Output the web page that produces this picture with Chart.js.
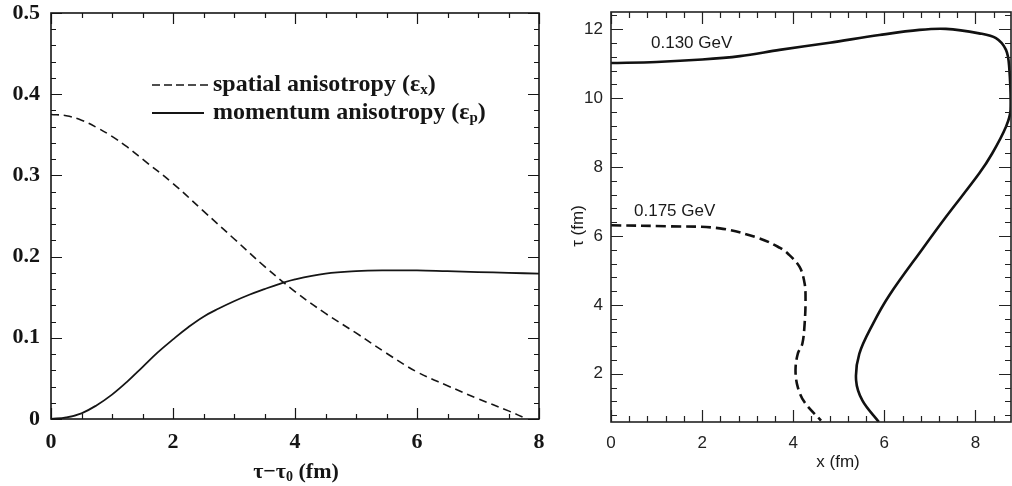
<!DOCTYPE html>
<html>
<head>
<meta charset="utf-8">
<script src="https://cdn.jsdelivr.net/npm/chart.js@4.4.0/dist/chart.umd.min.js"></script>
<style>
  html, body { margin: 0; padding: 0; background: #fff; }
  #wrap { position: relative; width: 1012px; height: 486px; overflow: hidden; }
  #left { position: absolute; left: 0; top: 0; }
  #right { position: absolute; left: 560px; top: 0; }
</style>
</head>
<body>
<div id="wrap">
  <canvas id="left" width="560" height="486"></canvas>
  <canvas id="right" width="452" height="486"></canvas>
</div>
<script>
// Left panel: anisotropies vs tau - tau0 (fm)
const spatialTau = [0, 0.25, 0.5, 0.75, 1, 1.25, 1.5, 2, 2.5, 3, 3.5, 4, 4.5, 5, 5.5, 6, 6.5, 7, 7.5, 7.8];
const spatialEcc = [0.375, 0.3735, 0.368, 0.359, 0.348, 0.335, 0.320, 0.290, 0.256, 0.222, 0.188, 0.157, 0.130, 0.106, 0.081, 0.058, 0.041, 0.025, 0.010, 0.0];
const momentumTau = [0, 0.25, 0.5, 0.75, 1, 1.25, 1.5, 1.75, 2, 2.25, 2.5, 2.75, 3, 3.25, 3.5, 3.75, 4, 4.5, 5, 5.5, 6, 6.5, 7, 7.5, 8];
const momentumEcc = [0, 0.002, 0.007, 0.017, 0.030, 0.046, 0.064, 0.082, 0.098, 0.113, 0.126, 0.136, 0.145, 0.153, 0.160, 0.1665, 0.172, 0.179, 0.182, 0.183, 0.183, 0.182, 0.181, 0.180, 0.179];
const leftXTicks = [0, 2, 4, 6, 8];
const leftYTicks = [0, 0.1, 0.2, 0.3, 0.4, 0.5];

// Right panel: freeze-out contours, x (fm) vs tau (fm)
const contour130X = [0, 1.0, 2.0, 2.83, 3.7, 4.8, 5.89, 6.77, 7.35, 8.08, 8.45, 8.67, 8.74, 8.77, 8.67, 8.37, 8.08, 7.35, 6.84, 6.11, 5.75, 5.45, 5.38, 5.52, 5.88];
const contour130Tau = [11.02, 11.05, 11.12, 11.22, 11.40, 11.61, 11.83, 11.98, 12.01, 11.88, 11.74, 11.40, 10.91, 9.65, 9.17, 8.40, 7.81, 6.55, 5.63, 4.28, 3.45, 2.58, 1.81, 1.22, 0.6];
const contour175X = [0, 1.29, 2.39, 3.26, 3.70, 3.88, 4.14, 4.25, 4.27, 4.25, 4.20, 4.10, 4.05, 4.10, 4.25, 4.61];
const contour175Tau = [6.31, 6.28, 6.22, 5.93, 5.66, 5.49, 5.10, 4.62, 4.13, 3.45, 2.87, 2.58, 2.10, 1.61, 1.17, 0.64];
const rightXTicks = [0, 2, 4, 6, 8];
const rightYTicks = [2, 4, 6, 8, 10, 12];

const toPoints = (xs, ys) => xs.map((x, i) => ({ x: x, y: ys[i] }));
const steps = (from, to, step) => {
    const out = [];
    for (let v = from; v <= to + 1e-9; v += step) out.push(+v.toFixed(4));
    return out;
};

// box around the plot with inward ticks on all four sides
const framePlugin = {
    id: 'frame',
    afterDatasetsDraw(chart, args, opts) {
        const { ctx, chartArea: a, scales: { x, y } } = chart;
        ctx.save();
        ctx.strokeStyle = opts.color;
        ctx.lineWidth = opts.lineWidth;
        ctx.beginPath();
        const xMarks = (vals, len) => vals.forEach(v => {
            const px = Math.round(x.getPixelForValue(v)) + 0.5;
            if (px < a.left - 1 || px > a.right + 1) return;
            ctx.moveTo(px, a.bottom); ctx.lineTo(px, a.bottom - len);
            ctx.moveTo(px, a.top); ctx.lineTo(px, a.top + len);
        });
        const yMarks = (vals, len) => vals.forEach(v => {
            const py = Math.round(y.getPixelForValue(v)) + 0.5;
            if (py < a.top - 1 || py > a.bottom + 1) return;
            ctx.moveTo(a.left, py); ctx.lineTo(a.left + len, py);
            ctx.moveTo(a.right, py); ctx.lineTo(a.right - len, py);
        });
        xMarks(opts.xMajor, opts.majorLen);
        xMarks(opts.xMinor, opts.minorLen);
        yMarks(opts.yMajor, opts.majorLen);
        yMarks(opts.yMinor, opts.minorLen);
        ctx.stroke();
        ctx.lineWidth = opts.boxWidth;
        ctx.strokeRect(a.left, a.top, a.right - a.left, a.bottom - a.top);
        ctx.restore();
    }
};

// free text (legend, titles, contour labels), with optional subscripts
function drawPieces(ctx, pieces, x, y, font, subFont, align) {
    ctx.textBaseline = 'middle';
    ctx.textAlign = 'left';
    let total = 0;
    pieces.forEach(p => { ctx.font = p.sub ? subFont : font; total += ctx.measureText(p.t).width; });
    let cx = align === 'center' ? x - total / 2 : x;
    pieces.forEach(p => {
        ctx.font = p.sub ? subFont : font;
        ctx.fillText(p.t, cx, p.sub ? y + 5 : y);
        cx += ctx.measureText(p.t).width;
    });
}

const notesPlugin = {
    id: 'notes',
    afterDraw(chart, args, opts) {
        const ctx = chart.ctx;
        ctx.save();
        ctx.fillStyle = opts.color;
        ctx.strokeStyle = opts.color;
        (opts.lines || []).forEach(l => {
            ctx.lineWidth = l.width;
            ctx.setLineDash(l.dash);
            ctx.beginPath();
            ctx.moveTo(l.x1, l.y); ctx.lineTo(l.x2, l.y);
            ctx.stroke();
        });
        ctx.setLineDash([]);
        (opts.texts || []).forEach(t => {
            if (t.rotate) {
                ctx.save();
                ctx.translate(t.x, t.y);
                ctx.rotate(-Math.PI / 2);
                drawPieces(ctx, t.pieces, 0, 0, t.font, t.subFont, 'center');
                ctx.restore();
            } else {
                drawPieces(ctx, t.pieces, t.x, t.y, t.font, t.subFont, t.align);
            }
        });
        ctx.restore();
    }
};

// keep tick labels from pushing the plot box inwards
function noEdgePadding(s) {
    s.paddingTop = 0; s.paddingBottom = 0;
    s.paddingLeft = 0; s.paddingRight = 0;
}

const serifBold = { family: 'Liberation Serif', weight: 'bold', size: 22 };
const sans = { family: 'Liberation Sans', size: 17 };

new Chart(document.getElementById('left'), {
    type: 'scatter',
    data: {
        datasets: [{
            label: 'spatial anisotropy',
            data: toPoints(spatialTau, spatialEcc),
            showLine: true,
            borderColor: '#151515',
            borderWidth: 1.6,
            borderDash: [8, 5],
            pointRadius: 0,
            tension: 0.4
        }, {
            label: 'momentum anisotropy',
            data: toPoints(momentumTau, momentumEcc),
            showLine: true,
            borderColor: '#151515',
            borderWidth: 1.8,
            pointRadius: 0,
            tension: 0.4
        }]
    },
    options: {
        responsive: false,
        animation: false,
        layout: { padding: { top: 13, right: 21, left: 0, bottom: 0 } },
        plugins: {
            legend: { display: false },
            tooltip: { enabled: false },
            frame: {
                color: '#151515', lineWidth: 1.2, boxWidth: 1.6, majorLen: 11, minorLen: 5,
                xMajor: leftXTicks, xMinor: steps(0, 8, 0.5),
                yMajor: leftYTicks, yMinor: steps(0, 0.5, 0.02)
            },
            notes: {
                color: '#151515',
                lines: [
                    { x1: 152, x2: 210, y: 85, width: 1.6, dash: [8, 4] },
                    { x1: 152, x2: 204, y: 113, width: 1.8, dash: [] }
                ],
                texts: [
                    { x: 213, y: 85, font: 'bold 24px "Liberation Serif"', subFont: 'bold 15px "Liberation Serif"',
                      pieces: [{ t: 'spatial anisotropy (\u03b5' }, { t: 'x', sub: true }, { t: ')' }] },
                    { x: 213, y: 113, font: 'bold 24px "Liberation Serif"', subFont: 'bold 15px "Liberation Serif"',
                      pieces: [{ t: 'momentum anisotropy (\u03b5' }, { t: 'p', sub: true }, { t: ')' }] },
                    { x: 296, y: 472, align: 'center', font: 'bold 22px "Liberation Serif"', subFont: 'bold 14px "Liberation Serif"',
                      pieces: [{ t: '\u03c4\u2212\u03c4' }, { t: '0', sub: true }, { t: ' (fm)' }] }
                ]
            }
        },
        scales: {
            x: {
                type: 'linear', min: 0, max: 8,
                grid: { display: false, drawTicks: false },
                border: { display: false },
                afterFit(s) { s.height = 67; noEdgePadding(s); },
                afterBuildTicks(s) { s.ticks = leftXTicks.map(v => ({ value: v })); },
                ticks: { font: serifBold, color: '#151515', padding: 10, maxRotation: 0 }
            },
            y: {
                type: 'linear', min: 0, max: 0.5,
                grid: { display: false, drawTicks: false },
                border: { display: false },
                afterFit(s) { s.width = 51; noEdgePadding(s); },
                afterBuildTicks(s) { s.ticks = leftYTicks.map(v => ({ value: v })); },
                ticks: {
                    font: serifBold, color: '#151515', padding: 11,
                    callback: v => v === 0 ? '0' : v.toFixed(1)
                }
            }
        }
    },
    plugins: [framePlugin, notesPlugin]
});

new Chart(document.getElementById('right'), {
    type: 'scatter',
    data: {
        datasets: [{
            label: '0.130 GeV',
            data: toPoints(contour130X, contour130Tau),
            showLine: true,
            borderColor: '#111',
            borderWidth: 2.6,
            pointRadius: 0,
            tension: 0.35
        }, {
            label: '0.175 GeV',
            data: toPoints(contour175X, contour175Tau),
            showLine: true,
            borderColor: '#111',
            borderWidth: 2.6,
            borderDash: [10, 5],
            pointRadius: 0,
            tension: 0.35
        }]
    },
    options: {
        responsive: false,
        animation: false,
        layout: { padding: { top: 12, right: 1, left: 0, bottom: 0 } },
        plugins: {
            legend: { display: false },
            tooltip: { enabled: false },
            frame: {
                color: '#222', lineWidth: 1.2, boxWidth: 1.6, majorLen: 12, minorLen: 6,
                xMajor: rightXTicks, xMinor: steps(0, 8.8, 0.4),
                yMajor: rightYTicks, yMinor: steps(0.4, 12.4, 0.4)
            },
            notes: {
                color: '#1a1a1a',
                texts: [
                    { x: 91, y: 43, font: '17px "Liberation Sans"', pieces: [{ t: '0.130 GeV' }] },
                    { x: 74, y: 211, font: '17px "Liberation Sans"', pieces: [{ t: '0.175 GeV' }] },
                    { x: 278, y: 462, align: 'center', font: '17px "Liberation Sans"', pieces: [{ t: 'x (fm)' }] },
                    { x: 18, y: 226, rotate: true, font: '17px "Liberation Sans"', pieces: [{ t: '\u03c4 (fm)' }] }
                ]
            }
        },
        scales: {
            x: {
                type: 'linear', min: 0, max: 8.78,
                grid: { display: false, drawTicks: false },
                border: { display: false },
                afterFit(s) { s.height = 64; noEdgePadding(s); },
                afterBuildTicks(s) { s.ticks = rightXTicks.map(v => ({ value: v })); },
                ticks: { font: sans, color: '#222', padding: 11, maxRotation: 0 }
            },
            y: {
                type: 'linear', min: 0.6, max: 12.5,
                grid: { display: false, drawTicks: false },
                border: { display: false },
                afterFit(s) { s.width = 51; noEdgePadding(s); },
                afterBuildTicks(s) { s.ticks = rightYTicks.map(v => ({ value: v })); },
                ticks: { font: sans, color: '#222', padding: 8 }
            }
        }
    },
    plugins: [framePlugin, notesPlugin]
});
</script>
</body>
</html>
